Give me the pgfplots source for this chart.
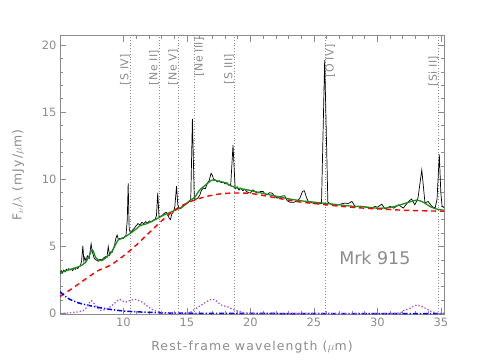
\documentclass[border=0pt]{standalone}
\usepackage{fontspec}
\setmainfont{DejaVu Sans}
\newfontfamily\labfont[LetterSpace=9]{DejaVu Sans}
\newfontfamily\linefont[LetterSpace=3]{DejaVu Sans}
\usepackage{pgfplots}
\pgfplotsset{compat=1.18}
\definecolor{axgray}{HTML}{8C8C8C}
\definecolor{mgreen}{HTML}{1E8C1E}
\definecolor{pah}{HTML}{A050F0}

\begin{document}
\begin{tikzpicture}
\useasboundingbox (0,0) rectangle (480bp,360bp);
\begin{axis}[at={(60bp,45.7bp)},anchor=south west,scale only axis,width=384bp,height=278.7bp,
  xmin=5,xmax=35.25,ymin=-0.05,ymax=20.7,
  xtick={10,15,20,25,30,35},ytick={0,5,10,15,20},minor x tick num=4,minor y tick num=4,
  xtick pos=both,ytick pos=both,tick align=inside,
  axis line style={axgray,line width=0.8bp},tick style={axgray,line width=0.6bp},
  major tick length=6bp,minor tick length=3bp,
  /pgf/number format/assume math mode=true,
  tick label style={font=\fontsize{11.5}{12}\selectfont,text=axgray},
  label style={font=\labfont\fontsize{12.5}{14}\selectfont,text=axgray},
  xlabel style={at={(axis description cs:0.5,-0.117)},anchor=center},
  ylabel style={at={(axis description cs:-0.109,0.5)},anchor=center,rotate=0},
  xlabel={Rest-frame wavelength ($\mu$m)},ylabel={F$_\nu$/$\lambda$ (mJy/$\mu$m)}]
% line positions
\pgfplotsinvokeforeach{10.51,12.81,14.32,15.56,18.71,25.89,34.82}{
  \addplot[axgray,dotted,line width=0.8bp,forget plot] coordinates {(#1,-0.05) (#1,20.7)};
}
% observed spectrum
\addplot[black,line width=0.7bp] coordinates {
(5.0,2.95)(5.1,3.2)(5.2,3.05)(5.3,3.25)(5.4,3.1)(5.5,3.3)(5.6,3.2)(5.7,3.35)(5.8,3.25)(5.9,3.3)
(6.0,3.2)(6.1,3.4)(6.2,3.3)(6.3,3.45)(6.4,3.35)(6.5,3.5)(6.6,3.55)(6.7,3.9)(6.8,5.05)(6.88,3.9)
(6.95,4.2)(7.05,3.9)(7.15,4.3)(7.3,4.1)(7.45,5.2)(7.55,4.6)(7.7,4.1)(7.85,4.0)(8.0,3.9)(8.15,4.05)
(8.3,4.0)(8.45,4.15)(8.6,4.25)(8.7,4.2)(8.8,5.0)(8.9,4.35)(9.0,4.6)(9.1,4.55)(9.2,4.8)(9.3,5.1)
(9.4,5.6)(9.5,5.85)(9.6,5.5)(9.7,5.6)(9.8,5.55)(9.9,5.65)(10.0,5.6)(10.1,5.75)(10.2,5.8)(10.3,7.0)
(10.37,9.7)(10.45,6.3)(10.55,6.0)(10.7,6.2)(10.85,6.35)(11.0,6.55)(11.15,6.7)(11.3,6.6)(11.45,6.8)
(11.6,6.7)(11.75,6.85)(11.9,6.75)(12.05,6.9)(12.2,6.85)(12.35,6.95)(12.5,7.05)(12.6,7.3)(12.7,9.0)
(12.8,7.2)(12.9,7.25)(13.05,7.3)(13.2,7.45)(13.35,7.55)(13.5,7.4)(13.6,7.1)(13.7,7.0)(13.8,7.4)
(13.95,7.6)(14.05,8.0)(14.18,9.5)(14.28,8.1)(14.4,7.8)(14.55,7.85)(14.7,8.0)(14.85,8.1)(15.0,8.2)
(15.15,8.3)(15.3,8.5)(15.43,14.5)(15.58,8.6)(15.7,8.5)(15.85,8.6)(16.0,8.8)(16.15,9.2)(16.3,9.35)
(16.45,9.3)(16.6,9.7)(16.75,9.9)(16.9,10.45)(17.0,10.3)(17.1,10.0)(17.25,9.95)(17.4,9.8)(17.55,9.9)
(17.7,9.75)(17.85,9.8)(18.0,9.65)(18.15,9.75)(18.3,9.55)(18.45,9.6)(18.63,12.55)(18.8,9.3)
(18.95,9.45)(19.1,9.2)(19.25,9.35)(19.4,9.15)(19.55,9.25)(19.7,9.1)(19.85,9.0)(20.0,8.98)(20.2,9.22)
(20.4,9.05)(20.6,8.98)(20.8,9.1)(21.0,9.1)(21.15,8.9)(21.3,8.85)(21.5,9.0)(21.7,8.98)(21.9,8.75)
(22.1,8.6)(22.3,8.72)(22.5,8.75)(22.7,8.78)(22.9,8.4)(23.1,8.3)(23.4,8.28)(23.7,8.4)(23.9,8.6)
(24.1,9.1)(24.25,9.15)(24.4,8.7)(24.55,8.35)(24.8,8.28)(25.0,8.2)(25.3,8.18)(25.6,8.2)(25.85,18.9)
(26.1,8.3)(26.3,8.18)(26.5,8.1)(26.7,8.03)(26.9,8.1)(27.2,8.18)(27.45,8.23)(27.7,8.2)(28.0,8.35)
(28.25,7.98)(28.6,8.0)(28.9,7.98)(29.2,7.9)(29.45,7.8)(29.8,7.98)(30.0,7.92)(30.35,8.15)(30.6,7.8)
(31.0,7.98)(31.3,7.85)(31.65,8.1)(32.05,7.86)(32.45,8.35)(32.7,8.53)(32.95,8.1)(33.2,8.6)(33.5,10.7)
(33.75,8.25)(34.0,8.35)(34.3,7.98)(34.55,7.86)(34.7,8.5)(34.88,11.85)(35.0,9.0)(35.1,7.98)(35.25,7.9)};
% total model
\addplot[mgreen,line width=1.3bp,smooth] coordinates {
(5.0,3.05)(5.5,3.2)(6.0,3.35)(6.5,3.5)(7.0,3.8)(7.3,4.3)(7.55,4.75)(7.8,4.2)(8.1,3.95)(8.4,4.0)
(8.7,4.25)(9.0,4.5)(9.3,5.0)(9.6,5.5)(10.0,5.65)(10.5,5.95)(11.0,6.3)(11.3,6.55)(11.7,6.65)
(12.2,6.85)(12.7,7.1)(13.2,7.35)(13.7,7.55)(14.2,7.75)(14.7,8.0)(15.2,8.4)(15.6,8.65)(16.0,9.2)
(16.5,9.6)(17.0,9.95)(17.5,9.85)(18.0,9.75)(18.5,9.5)(19.0,9.35)(20.0,9.17)(21.0,8.95)(22.0,8.75)
(23.0,8.55)(24.0,8.4)(25.0,8.3)(26.0,8.2)(27.0,8.1)(28.0,8.0)(29.0,7.95)(30.0,7.85)(31.0,7.9)
(31.8,8.1)(32.5,8.3)(33.1,8.45)(33.6,8.3)(34.2,7.95)(34.6,7.8)(35.25,7.7)};
% dust continuum
\addplot[red,line width=1.4bp,dash pattern=on 5bp off 4bp,smooth] coordinates {
(5.0,1.28)(6.0,1.9)(7.0,2.57)(8.0,3.2)(9.0,3.62)(10.0,4.3)(11.0,5.1)(12.0,6.0)(13.0,6.9)(14.0,7.7)
(15.0,8.23)(16.0,8.58)(17.0,8.82)(18.0,8.95)(19.0,8.98)(20.0,8.95)(21.0,8.8)(22.0,8.62)(23.0,8.45)
(24.0,8.3)(25.0,8.2)(26.0,8.1)(27.0,8.0)(28.0,7.92)(29.0,7.85)(30.0,7.8)(31.0,7.75)(32.0,7.7)
(33.0,7.67)(34.0,7.65)(35.25,7.62)};
% stellar component
\addplot[blue,line width=1.5bp,dash pattern=on 5bp off 2bp on 1.2bp off 2bp,smooth] coordinates {
(5.0,1.63)(5.63,1.14)(6.42,0.81)(7.47,0.57)(8.78,0.34)(10.1,0.19)(11.4,0.12)(12.7,0.07)(14.0,0.04)
(17.0,0.02)(22.0,0.01)(28.0,0.0)(35.25,0.0)};
% PAH features
\addplot[pah,line width=1.3bp,dotted,smooth] coordinates {
(5.0,0.02)(6.0,0.08)(6.81,0.22)(7.2,0.6)(7.47,0.96)(7.86,0.52)(8.2,0.25)(8.78,0.4)(9.3,0.77)
(9.7,1.07)(10.1,0.85)(10.49,0.96)(10.88,1.07)(11.4,0.89)(11.93,0.52)(12.46,0.22)(13.25,0.03)
(14.0,0.02)(15.1,0.03)(15.6,0.32)(16.14,0.64)(16.92,1.07)(17.3,0.96)(17.7,0.64)(18.23,0.5)
(18.6,0.32)(19.29,0.12)(20.1,0.02)(25.0,0.02)(31.27,0.02)(32.05,0.22)(32.58,0.4)(33.1,0.64)
(33.63,0.47)(34.29,0.14)(34.8,0.02)(35.25,0.02)};
% line labels
\tikzset{lab/.style={text=axgray,font=\linefont\fontsize{11}{13}\selectfont,rotate=90,inner sep=0pt}}
\node[lab,anchor=south west,xshift=-4bp] at (axis cs:10.51,17.3) {[S IV]};
\node[lab,anchor=south west,xshift=-4bp] at (axis cs:12.81,17.3) {[Ne II]};
\node[lab,anchor=south west,xshift=-4bp] at (axis cs:14.32,17.3) {[Ne V]};
\node[lab,anchor=north west,xshift=5bp] at (axis cs:15.56,17.3) {[Ne III]};
\node[lab,anchor=south west,xshift=-3bp] at (axis cs:18.71,17.3) {[S III]};
\node[lab,anchor=north west,xshift=4bp] at (axis cs:25.89,17.3) {[O IV]};
\node[lab,anchor=south west,xshift=-5bp] at (axis cs:34.82,17.3) {[Si II]};
\node[text=axgray,font=\fontsize{17.5}{20}\selectfont] at (axis cs:29.8,4.13) {Mrk 915};
\end{axis}
\end{tikzpicture}
\end{document}
